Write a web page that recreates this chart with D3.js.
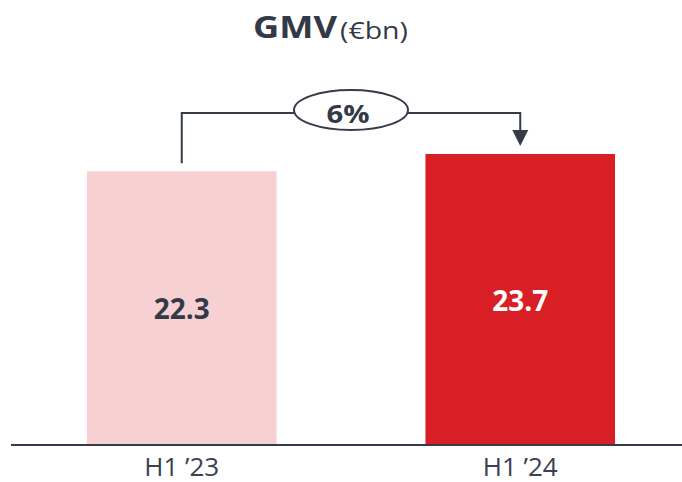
<!DOCTYPE html>
<meta charset="utf-8">
<style>
  body { margin: 0; background: #fff; font-family: "Open Sans", sans-serif; }
  .axis path { stroke: #353c48; stroke-width: 2px; }
  .axis text { fill: #3a4150; font-size: 25px; font-family: "Open Sans", sans-serif; }
</style>
<body>
<script src="https://d3js.org/d3.v7.min.js"></script>
<script>

var periods = ["H1 \u201923", "H1 \u201924"];
var gmv = [22.3, 23.7];
var barColors = ["#f7d1d2", "#d81f26"];
var labelColors = ["#333a47", "#ffffff"];
var growth = "6%";

var width = 682, height = 482;
var baseY = 445;

var svg = d3.select("body").append("svg")
  .attr("width", width)
  .attr("height", height);

var x = d3.scaleBand()
  .domain(periods)
  .range([12.5, 689.5])
  .paddingInner(0.44)
  .paddingOuter(0.22);

var y = d3.scaleLinear()
  .domain([0, 23.7])
  .range([baseY, 154]);

// title (text is stretched a bit in the source slide)
svg.append("text")
  .attr("x", 253)
  .attr("y", 38)
  .attr("fill", "#333a47")
  .attr("textLength", 84)
  .attr("lengthAdjust", "spacingAndGlyphs")
  .style("font-size", "31px")
  .style("font-weight", "bold")
  .text("GMV");
svg.append("text")
  .attr("x", 340)
  .attr("y", 39)
  .attr("fill", "#333a47")
  .attr("textLength", 68)
  .attr("lengthAdjust", "spacingAndGlyphs")
  .style("font-size", "23px")
  .text("(\u20acbn)");

// bars
svg.selectAll(".bar")
  .data(gmv)
  .enter().append("rect")
  .attr("class", "bar")
  .attr("x", function(d, i) { return x(periods[i]); })
  .attr("width", x.bandwidth())
  .attr("y", function(d) { return y(d); })
  .attr("height", function(d) { return baseY - y(d); })
  .attr("fill", function(d, i) { return barColors[i]; });

svg.selectAll(".val")
  .data(gmv)
  .enter().append("text")
  .attr("class", "val")
  .attr("x", function(d, i) { return x(periods[i]) + x.bandwidth() / 2; })
  .attr("y", function(d) { return (y(d) + baseY) / 2; })
  .attr("dy", "0.4em")
  .attr("text-anchor", "middle")
  .style("font-size", "28px")
  .style("font-weight", "bold")
  .attr("fill", function(d, i) { return labelColors[i]; })
  .text(function(d) { return d.toFixed(1); });

// axis
svg.append("g")
  .attr("class", "axis")
  .attr("transform", "translate(0," + baseY + ")")
  .call(d3.axisBottom(x).tickSize(0))
  .call(function(g) {
    g.select(".domain").attr("d", "M11,0H682");
    g.selectAll(".tick text")
      .attr("y", 31)
      .attr("dy", null)
      .attr("textLength", 75)
      .attr("lengthAdjust", "spacingAndGlyphs");
  });

// growth connector
var x1 = x(periods[0]) + x.bandwidth() / 2;
var x2 = x(periods[1]) + x.bandwidth() / 2;
var topY = 113;
var mid = (x1 + x2) / 2;

svg.append("path")
  .attr("d", "M" + x1 + "," + (y(gmv[0]) - 8) + "V" + topY + "H" + x2 + "V" + 131)
  .attr("fill", "none")
  .attr("stroke", "#353c48")
  .attr("stroke-width", 2);

svg.append("path")
  .attr("d", "M" + (x2 - 8) + ",130L" + (x2 + 8) + ",130L" + x2 + ",146Z")
  .attr("fill", "#353c48");

svg.append("ellipse")
  .attr("cx", mid)
  .attr("cy", 110)
  .attr("rx", 57)
  .attr("ry", 20)
  .attr("fill", "#fff")
  .attr("stroke", "#353c48")
  .attr("stroke-width", 2);

svg.append("text")
  .attr("x", mid - 3)
  .attr("y", 123)
  .attr("text-anchor", "middle")
  .attr("textLength", 43)
  .attr("lengthAdjust", "spacingAndGlyphs")
  .style("font-size", "25px")
  .style("font-weight", "bold")
  .attr("fill", "#333a47")
  .text(growth);

</script>
